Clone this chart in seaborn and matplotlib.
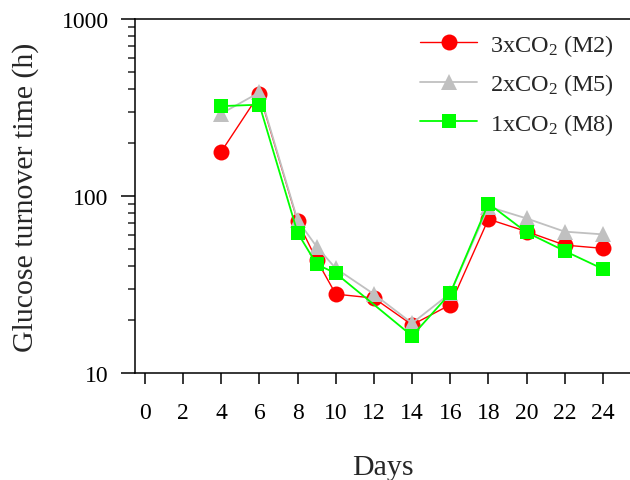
import numpy as np
import pandas as pd
import matplotlib
matplotlib.use("Agg")
import matplotlib.pyplot as plt
import seaborn as sns

sns.set_theme(style="ticks")
plt.rcParams["font.family"] = ["Liberation Serif", "DejaVu Serif"]
plt.rcParams["mathtext.fontset"] = "custom"
plt.rcParams["mathtext.rm"] = "Liberation Serif"
plt.rcParams["mathtext.it"] = "Liberation Serif:italic"

# days sampled
days_m2 = [4, 6, 8, 9, 10, 12, 14, 16, 18, 20, 22, 24]
days_m5 = [4, 6, 8, 9, 10, 12, 14, 16, 18, 20, 22, 24]
days_m8 = [4, 6, 8, 9, 10, 14, 16, 18, 20, 22, 24]

# glucose turnover time (h)
turnover_m2 = [178, 378, 72, 43.5, 27.9, 26.5, 18.7, 24.3, 74, 63, 52.8, 50.6]
turnover_m5 = [292, 385, 73, 51.7, 39, 27.9, 19.1, 28.2, 87, 74.7, 62.9, 60.7]
turnover_m8 = [322, 328, 62, 41.1, 36.6, 16.2, 28.2, 90.7, 62.3, 48.9, 38.7]

labels = ["3xCO$_2$ (M2)", "2xCO$_2$ (M5)", "1xCO$_2$ (M8)"]
xticks = list(range(0, 25, 2))

fig = plt.figure(figsize=(6.3, 4.81), dpi=100)
ax = fig.add_axes([135 / 630, 1 - 374 / 481, 1 - 135 / 630, (374 - 20) / 481])

series = [
    (days_m2, turnover_m2, labels[0], "#ff0000", "o", 1.0, 11.5),
    (days_m5, turnover_m5, labels[1], "#c0c0c0", "^", 1.3, 11.5),
    (days_m8, turnover_m8, labels[2], "#00ff00", "s", 1.3, 10.5),
]
for days, vals, lab, col, mk, lw, ms in series:
    df = pd.DataFrame({"day": days, "turnover": vals})
    sns.lineplot(data=df, x="day", y="turnover", ax=ax, color=col, marker=mk,
                 markersize=ms, markeredgewidth=0, linewidth=lw, label=lab,
                 clip_on=False)

ax.set_yscale("log")
ax.set_ylim(10, 1000)
ax.set_xlim(-0.52, 25.42)
ax.set_xticks(xticks)
ax.set_xticklabels([str(t) for t in xticks])
ax.set_yticks([10, 100, 1000])
ax.set_yticklabels(["10", "100", "1000"])

ax.spines["right"].set_visible(False)
for s in ["left", "bottom", "top"]:
    ax.spines[s].set_linewidth(1.1)
    ax.spines[s].set_color("black")

ax.tick_params(axis="both", which="major", direction="out", width=1.1,
               colors="black", labelsize=17)
ax.tick_params(axis="x", which="major", length=8, pad=13)
ax.tick_params(axis="y", which="major", length=10, pad=9)
ax.tick_params(axis="y", which="minor", direction="out", length=5, width=1.1)
ax.tick_params(axis="x", which="minor", length=0)

ax.set_xlabel("Days", fontsize=21.5, labelpad=22)
ax.set_ylabel("Glucose turnover time (h)", fontsize=21.5, labelpad=16)

leg = ax.legend(loc="upper left", frameon=False, fontsize=17.5,
                handlelength=2.35, handletextpad=0.53, labelspacing=0.55,
                borderaxespad=0, borderpad=0)
leg.set_bbox_to_anchor((420 / 630, 1 - 33 / 481), transform=fig.transFigure)

fig.savefig("out.png", dpi=100)
